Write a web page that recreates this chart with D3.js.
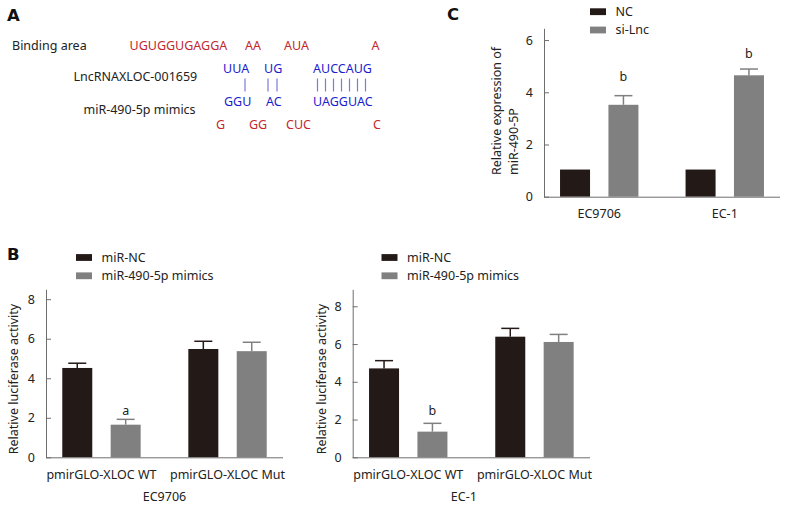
<!DOCTYPE html>
<html><head><meta charset="utf-8">
<script src="https://cdn.jsdelivr.net/npm/d3@7/dist/d3.min.js"></script>
<style>
body{margin:0;background:#fff;}
svg{display:block;font-family:"Noto Sans",sans-serif;}
</style></head>
<body><svg id="c" width="787" height="511"></svg>
<script>
// ---------- DATA ----------
// Panel A: binding sequences
const redTop = ["UGUGGUGAGGA", "AA", "AUA", "A"];
const blueTop = ["UUA", "UG", "AUCCAUG"];
const pairCounts = [1, 2, 7];
const blueBottom = ["GGU", "AC", "UAGGUAC"];
const redBottom = ["G", "GG", "CUC", "C"];
const rowLabels = ["Binding area", "LncRNAXLOC-001659", "miR-490-5p mimics"];

// Panel B: luciferase
const constructs = ["pmirGLO-XLOC WT", "pmirGLO-XLOC Mut"];
const seriesB = ["miR-NC", "miR-490-5p mimics"];
const ec9706NC = [4.52, 5.48];
const ec9706NCErr = [0.24, 0.39];
const ec9706Mim = [1.65, 5.37];
const ec9706MimErr = [0.27, 0.45];
const ec1NC = [4.71, 6.39];
const ec1NCErr = [0.41, 0.44];
const ec1Mim = [1.36, 6.11];
const ec1MimErr = [0.44, 0.40];
const ticksB = [0, 2, 4, 6, 8];
const sigB9706 = ["a", ""]; // on mimics bars
const sigBEC1 = ["b", ""];

// Panel C: relative expression
const cellLines = ["EC9706", "EC-1"];
const seriesC = ["NC", "si-Lnc"];
const cNC = [1.04, 1.04];
const cNCErr = [0, 0];
const cSi = [3.52, 4.65];
const cSiErr = [0.35, 0.24];
const ticksC = [0, 2, 4, 6];
const sigC = ["b", "b"];

// ---------- STYLE ----------
const DARK = "#231916", GREY = "#808080", AXIS = "#6e6e6e";
const RED = "#c1272d", BLUE = "#1c1ccc", PIPE = "#7b7bdc";
const FS = 12.5;

const svg = d3.select("#c");

// ---------- Panel letters ----------
const letters = [["A", 7, 21], ["B", 7, 260], ["C", 447, 20]];
svg.selectAll("text.letter").data(letters).join("text")
  .attr("class", "letter").attr("x", d => d[1]).attr("y", d => d[2])
  .attr("font-size", 16.5).attr("font-weight", "bold").attr("fill", "#111")
  .attr("font-family", "'DejaVu Sans', sans-serif")
  .text(d => d[0]);

// ---------- Panel A ----------
const gA = svg.append("g").attr("font-size", FS);
gA.append("text").attr("x", 12).attr("y", 49.5).attr("fill", "#222").text(rowLabels[0]);
gA.append("text").attr("x", 73.5).attr("y", 81).attr("fill", "#222").text(rowLabels[1]);
gA.append("text").attr("x", 83.5).attr("y", 113.5).attr("fill", "#222").text(rowLabels[2]);

const redTopX = [129.5, 245, 284, 371.5];
const blueTopX = [223, 264, 313];
const blueBotX = [224, 266, 313];
const redBotX = [216, 249, 286, 373];
const pipeX = [[245], [268, 277], [317.5, 325.5, 333.5, 341.5, 349.5, 357.5, 365.5]];

gA.selectAll("text.rt").data(redTop).join("text").attr("class", "rt")
  .attr("x", (d, i) => redTopX[i]).attr("y", 49.5).attr("fill", RED).text(d => d);
gA.selectAll("text.bt").data(blueTop).join("text").attr("class", "bt")
  .attr("x", (d, i) => blueTopX[i]).attr("y", 72.8).attr("fill", BLUE).text(d => d);
gA.selectAll("text.bb").data(blueBottom).join("text").attr("class", "bb")
  .attr("x", (d, i) => blueBotX[i]).attr("y", 106).attr("fill", BLUE).text(d => d);
gA.selectAll("text.rb").data(redBottom).join("text").attr("class", "rb")
  .attr("x", (d, i) => redBotX[i]).attr("y", 128.5).attr("fill", RED).text(d => d);
pairCounts.forEach((n, gi) => {
  d3.range(n).forEach(k => {
    gA.append("line").attr("x1", pipeX[gi][k]).attr("x2", pipeX[gi][k])
      .attr("y1", 78.5).attr("y2", 91.5).attr("stroke", PIPE).attr("stroke-width", 1.2);
  });
});

// ---------- Bar panel helper ----------
function barPanel(cfg) {
  const g = svg.append("g").attr("font-size", FS).attr("fill", "#222");
  const y = d3.scaleLinear().domain([0, cfg.ymax]).range([cfg.yb, cfg.yt]);
  const x0 = d3.scalePoint().domain(cfg.cats).range([cfg.xl, cfg.xr]).padding(0.44);
  const x1 = d3.scaleBand().domain(cfg.series).range([-39.2, 39.2]).paddingInner(0.38).paddingOuter(0);
  const colors = [DARK, GREY];

  // bars
  cfg.series.forEach((s, si) => {
    const vals = cfg.values[si], errs = cfg.errs[si];
    const bx = c => x0(c) + x1(s);
    g.selectAll(null).data(cfg.cats).join("rect")
      .attr("x", c => bx(c)).attr("width", x1.bandwidth())
      .attr("y", (c, i) => y(vals[i])).attr("height", (c, i) => y(0) - y(vals[i]))
      .attr("fill", colors[si]);
    cfg.cats.forEach((c, i) => {
      if (!errs[i]) return;
      const cx = bx(c) + x1.bandwidth() / 2;
      g.append("line").attr("x1", cx).attr("x2", cx)
        .attr("y1", y(vals[i])).attr("y2", y(vals[i] + errs[i]))
        .attr("stroke", colors[si]).attr("stroke-width", 1.5);
      g.append("line").attr("x1", cx - 9).attr("x2", cx + 9)
        .attr("y1", y(vals[i] + errs[i])).attr("y2", y(vals[i] + errs[i]))
        .attr("stroke", colors[si]).attr("stroke-width", 1.5);
    });
    if (cfg.sig[si]) {
      cfg.cats.forEach((c, i) => {
        const lab = cfg.sig[si][i];
        if (!lab) return;
        g.append("text").attr("x", bx(c) + x1.bandwidth() / 2)
          .attr("y", y(vals[i] + errs[i]) - cfg.sigGap[i])
          .attr("text-anchor", "middle").attr("fill", "#222").text(lab);
      });
    }
  });

  // y axis
  const ya = g.append("g").attr("transform", `translate(${cfg.xl},0)`)
    .call(d3.axisLeft(y).tickValues(cfg.ticks).tickFormat(d3.format("d"))
      .tickSizeInner(-5).tickSizeOuter(0).tickPadding(11));
  ya.select(".domain").attr("stroke", AXIS);
  ya.selectAll(".tick line").attr("stroke", AXIS);
  ya.selectAll(".tick text").attr("font-size", FS).attr("fill", "#222")
    .attr("font-family", "'Noto Sans', sans-serif");

  // x axis line
  g.append("line").attr("x1", cfg.xl).attr("x2", cfg.xr)
    .attr("y1", cfg.yb + 0.5).attr("y2", cfg.yb + 0.5).attr("stroke", AXIS);

  // category labels
  g.selectAll(null).data(cfg.cats).join("text")
    .attr("x", c => x0(c)).attr("y", cfg.yb + 21.5)
    .attr("text-anchor", "middle").text(c => c);

  if (cfg.group) {
    g.append("text").attr("x", (cfg.xl + cfg.xr) / 2 + cfg.groupDx).attr("y", cfg.yb + 44)
      .attr("text-anchor", "middle").text(cfg.group);
  }

  // y title
  cfg.ytitle.forEach((t, k) => {
    g.append("text")
      .attr("transform", `translate(${cfg.ytx[k]},${cfg.yty}) rotate(-90)`)
      .attr("text-anchor", cfg.yAnchor).text(t);
  });

  // legend
  cfg.series.forEach((s, si) => {
    g.append("rect").attr("x", cfg.legX).attr("y", cfg.legY + si * 18.3 - 3.4)
      .attr("width", 16).attr("height", 6.8).attr("fill", colors[si]);
    g.append("text").attr("x", cfg.legX + 25.5).attr("y", cfg.legY + si * 18.3 + 4.4).text(s);
  });
}

barPanel({
  cats: constructs, series: seriesB,
  values: [ec9706NC, ec9706Mim], errs: [ec9706NCErr, ec9706MimErr],
  sig: [null, sigB9706], sigGap: [4, 4],
  xl: 46, xr: 283, yb: 457.3, yt: 289.3, ymax: 8.5, ticks: ticksB,
  group: "EC9706", groupDx: 0,
  ytitle: ["Relative luciferase activity"], ytx: [18], yty: 379, yAnchor: "middle",
  legX: 76, legY: 257.5
});

barPanel({
  cats: constructs, series: seriesB,
  values: [ec1NC, ec1Mim], errs: [ec1NCErr, ec1MimErr],
  sig: [null, sigBEC1], sigGap: [8, 8],
  xl: 352.7, xr: 590, yb: 457.3, yt: 289.3, ymax: 8.9, ticks: ticksB,
  group: "EC-1", groupDx: -7.5,
  ytitle: ["Relative luciferase activity"], ytx: [325.5], yty: 379, yAnchor: "middle",
  legX: 381.5, legY: 257.5
});

barPanel({
  cats: cellLines, series: seriesC,
  values: [cNC, cSi], errs: [cNCErr, cSiErr],
  sig: [null, sigC], sigGap: [14.5, 11.5],
  xl: 544, xr: 780, yb: 196.7, yt: 28.3, ymax: 6.45, ticks: ticksC,
  group: null,
  ytitle: ["Relative expression of", "miR-490-5P"], ytx: [500.5, 518], yty: 175, yAnchor: "start",
  legX: 590, legY: 11.7
});
</script></body></html>
